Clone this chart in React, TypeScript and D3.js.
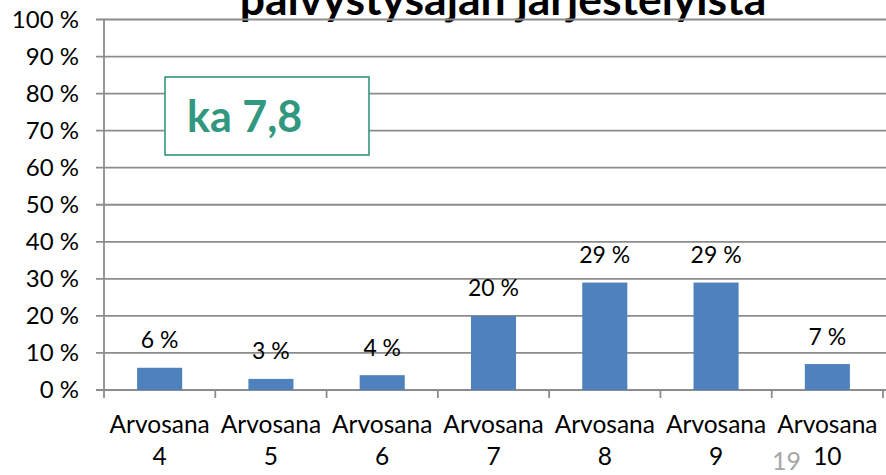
import React from "react";
import * as d3 from "d3";

const categories = ["4", "5", "6", "7", "8", "9", "10"];
const values = [6, 3, 4, 20, 29, 29, 7];
const yTicks = [0, 10, 20, 30, 40, 50, 60, 70, 80, 90, 100];
const categoryPrefix = "Arvosana";
const titleText = "päivystysajan järjestelyistä";
const averageText = "ka 7,8";
const pageNumber = "19";

const W = 886;
const H = 475;
const FONT = "Lato, 'Open Sans', sans-serif";

export default function App() {
  const x = d3.scaleBand<string>().domain(categories).range([104, 883]).padding(0);
  const y = d3.scaleLinear().domain([0, 100]).range([390, 19.5]);
  const bw = x.bandwidth() * 0.405;
  const gridColor = "#8c8c8c";
  const boundaries = [...categories.map((c) => x(c) as number), 883];

  return (
    <svg width={W} height={H} style={{ position: "absolute", left: 0, top: 0, background: "#fff" }} fontFamily={FONT}>
      <rect width={W} height={H} fill="#fff" />
      {/* title */}
      <text x={503} y={15} textAnchor="middle" fontSize={44.5} fontWeight="bold" fill="#000">
        {titleText}
      </text>
      {/* gridlines */}
      {yTicks.map((t) => (
        <line key={"g" + t} x1={96} x2={886} y1={y(t)} y2={y(t)} stroke={gridColor} strokeWidth={1.8} />
      ))}
      {/* y axis */}
      <line x1={104} x2={104} y1={y(100)} y2={y(0)} stroke={gridColor} strokeWidth={1.8} />
      {/* x ticks */}
      {boundaries.map((b, i) => (
        <line key={"xt" + i} x1={b} x2={b} y1={y(0)} y2={y(0) + 8} stroke={gridColor} strokeWidth={1.8} />
      ))}
      {/* y labels */}
      {yTicks.map((t) => (
        <text key={"yl" + t} x={79} y={y(t) + 8} textAnchor="end" fontSize={24} fill="#000">
          {t} %
        </text>
      ))}
      {/* bars */}
      {values.map((v, i) => {
        const cx = (x(categories[i]) as number) + x.bandwidth() / 2;
        return (
          <g key={"b" + i}>
            <rect x={cx - bw / 2} y={y(v)} width={bw} height={y(0) - y(v)} fill="#4F81BD" />
            <text x={cx} y={y(v) - 19.5} textAnchor="middle" fontSize={23} fill="#000">
              {v} %
            </text>
          </g>
        );
      })}
      {/* category labels */}
      {categories.map((c) => {
        const cx = (x(c) as number) + x.bandwidth() / 2;
        return (
          <g key={"c" + c}>
            <text x={cx} y={433} textAnchor="middle" fontSize={24.5} fill="#000">
              {categoryPrefix}
            </text>
            <text x={cx} y={465} textAnchor="middle" fontSize={24.5} fill="#000">
              {c}
            </text>
          </g>
        );
      })}
      {/* average box */}
      <rect x={165} y={77} width={204} height={78} fill="#fff" stroke="#31977F" strokeWidth={1.6} />
      <text x={187} y={132} fontSize={43} fontWeight="bold" fill="#31977F">
        {averageText}
      </text>
      {/* page number */}
      <text x={772} y={470} fontSize={25} fill="#a6a6a6">
        {pageNumber}
      </text>
    </svg>
  );
}
